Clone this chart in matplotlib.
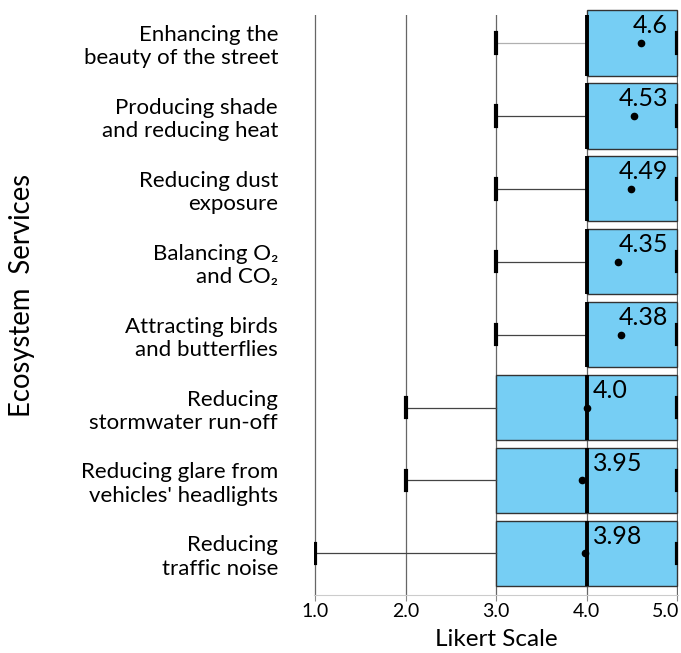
import numpy as np
import matplotlib
matplotlib.use("Agg")
import matplotlib.pyplot as plt
from matplotlib.transforms import ScaledTranslation

plt.rcParams['font.family'] = ['Lato', 'DejaVu Sans']

# Ecosystem services, top to bottom
services = [
    "Enhancing the\nbeauty of the street",
    "Producing shade\nand reducing heat",
    "Reducing dust\nexposure",
    "Balancing O\u2082\nand CO\u2082",
    "Attracting birds\nand butterflies",
    "Reducing\nstormwater run-off",
    "Reducing glare from\nvehicles' headlights",
    "Reducing\ntraffic noise",
]
mins = [3, 3, 3, 3, 3, 2, 2, 1]
q1s = [4, 4, 4, 4, 4, 3, 3, 3]
medians = [4, 4, 4, 4, 4, 4, 4, 4]
q3s = [5, 5, 5, 5, 5, 5, 5, 5]
maxs = [5, 5, 5, 5, 5, 5, 5, 5]
means = [4.6, 4.53, 4.49, 4.35, 4.38, 4.0, 3.95, 3.98]
mean_labels = ["4.6", "4.53", "4.49", "4.35", "4.38", "4.0", "3.95", "3.98"]
xticks = [1, 2, 3, 4, 5]
xtick_labels = ["1.0", "2.0", "3.0", "4.0", "5.0"]

n = len(services)
pos = np.arange(n, 0, -1)

stats = []
for i in range(n):
    stats.append(dict(whislo=mins[i], q1=q1s[i], med=medians[i], q3=q3s[i],
                      whishi=maxs[i], mean=means[i], fliers=[]))

fig = plt.figure(figsize=(6.81, 6.53), dpi=100)
ax = fig.add_axes([0.4613, 0.0888, 0.5342, 0.8882])

bp = ax.bxp(stats, positions=pos, orientation='horizontal', widths=0.9,
            patch_artist=True, showmeans=True, capwidths=0.27,
            boxprops=dict(facecolor='#76cef4', edgecolor='#333333', linewidth=1.0),
            medianprops=dict(color='black', linewidth=2.8),
            whiskerprops=dict(color='#444444', linewidth=0.9),
            capprops=dict(color='black', linewidth=3.0),
            meanprops=dict(marker='o', markerfacecolor='black', markeredgecolor='black',
                           markersize=4.5))
for b in bp['boxes']:
    b.set_clip_on(False)
bp['whiskers'][0].set_color('#b0b0b0')
bp['whiskers'][1].set_color('#b0b0b0')

for i in range(n):
    if means[i] > 4.2:
        ax.text(4.9, pos[i] + 0.23, mean_labels[i], ha='right', va='center', fontsize=18)
    else:
        ax.text(4.07, pos[i] + 0.23, mean_labels[i], ha='left', va='center', fontsize=18)

ax.set_xlim(0.99, 5.01)
ax.set_ylim(0.43, 8.38)
ax.set_xticks(xticks)
ax.set_xticklabels(xtick_labels, fontsize=14)
ax.set_yticks(pos)
ax.set_yticklabels(services, fontsize=16, linespacing=1.2)
ax.tick_params(axis='y', length=0, pad=26)
ax.tick_params(axis='x', length=4, color='#888888', pad=2)
# last tick label sits just inside the right edge
last = ax.get_xticklabels()[-1]
last.set_transform(last.get_transform() + ScaledTranslation(-0.11, 0, fig.dpi_scale_trans))
ax.grid(True, axis='x', color='#666666', linewidth=0.9, zorder=0)
ax.set_axisbelow(True)
for s in ['top', 'right', 'left']:
    ax.spines[s].set_visible(False)
ax.spines['bottom'].set_color('#cccccc')
ax.set_xlabel("Likert Scale", fontsize=17.5, labelpad=6)
fig.text(0.033, 0.547, "Ecosystem  Services", rotation=90, ha='center', va='center', fontsize=19.8)

fig.savefig("out.png", dpi=100)
